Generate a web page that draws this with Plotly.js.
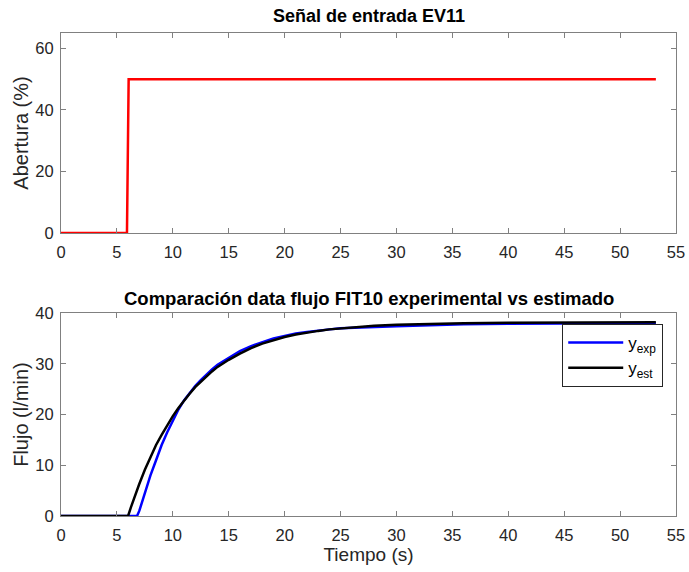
<!DOCTYPE html>
<html>
<head>
<meta charset="utf-8">
<script src="https://cdn.plot.ly/plotly-3.0.1.min.js"></script>
<style>html,body{margin:0;padding:0;background:#fff;}</style>
</head>
<body>
<div id="chart" style="width:689px;height:572px;"></div>
<script>
// Input signal (valve opening %)
const tInput = [0, 5.9, 6.05, 53.2];
const uInput = [0, 0, 50, 50];

// Experimental flow
const tExp = [0, 6.8, 7, 7.25, 7.5, 7.75, 8, 8.5, 9, 9.5, 10, 10.5, 11, 11.5, 12, 12.5, 13, 13.5, 14, 14.5, 15, 16, 17, 18, 19, 20, 21, 22, 23, 24, 25, 26, 28, 30, 33, 36, 40, 45, 50, 53.2];
const yExp = [0, 0, 1.0, 2.8, 4.5, 6.3, 8.0, 11.0, 14.0, 16.5, 18.8, 21.0, 22.8, 24.3, 25.6, 26.8, 27.9, 28.9, 29.8, 30.5, 31.2, 32.5, 33.5, 34.3, 35.0, 35.5, 36.0, 36.3, 36.6, 36.8, 37.0, 37.1, 37.3, 37.4, 37.6, 37.8, 37.9, 38.0, 38.0, 38.0];

// Estimated flow
const tEst = [0, 6, 6.25, 6.5, 6.75, 7, 7.5, 8, 8.5, 9, 9.5, 10, 10.5, 11, 11.5, 12, 12.5, 13, 13.5, 14, 14.5, 15, 16, 17, 18, 19, 20, 21, 22, 23, 24, 25, 26, 28, 30, 33, 36, 40, 45, 50, 53.2];
const yEst = [0, 0, 1.7, 3.3, 4.8, 6.3, 9.1, 11.6, 14.0, 16.0, 18.0, 19.7, 21.3, 22.8, 24.1, 25.4, 26.5, 27.6, 28.5, 29.4, 30.1, 30.8, 32.0, 33.1, 34.0, 34.7, 35.3, 35.8, 36.2, 36.5, 36.8, 37.0, 37.2, 37.5, 37.7, 37.9, 38.0, 38.1, 38.15, 38.2, 38.2];

const xTicks = [0, 5, 10, 15, 20, 25, 30, 35, 40, 45, 50, 55];
const yTicksTop = [0, 20, 40, 60];
const yTicksBottom = [0, 10, 20, 30, 40];

const titleTop = "Señal de entrada EV11";
const titleBottom = "Comparación data flujo FIT10 experimental vs estimado";

const FONT = "Liberation Sans, Arial, Helvetica, sans-serif";
const axisColor = "#808080";
const tickFont = {family: FONT, size: 16.5, color: "#262626"};

function axisBase(extra) {
  return Object.assign({
    showline: true, linecolor: axisColor, linewidth: 1, mirror: "ticks",
    ticks: "inside", ticklen: 5, tickcolor: axisColor, tickwidth: 1,
    showgrid: false, zeroline: false, tickfont: tickFont, fixedrange: true
  }, extra);
}

const traces = [
  {x: tInput, y: uInput, type: "scatter", mode: "lines", line: {color: "#ff0000", width: 2.5},
   xaxis: "x", yaxis: "y", showlegend: false},
  {x: tExp, y: yExp, type: "scatter", mode: "lines", line: {color: "#0000ff", width: 2.5},
   xaxis: "x2", yaxis: "y2", name: "y<sub>exp</sub>"},
  {x: tEst, y: yEst, type: "scatter", mode: "lines", line: {color: "#000000", width: 2.5},
   xaxis: "x2", yaxis: "y2", name: "y<sub>est</sub>"}
];

const layout = {
  width: 689, height: 572,
  margin: {l: 61, r: 13, t: 33, b: 56},
  paper_bgcolor: "#fff", plot_bgcolor: "#fff",
  font: {family: FONT, color: "#262626"},
  xaxis: axisBase({domain: [0, 1], range: [0, 55], tickvals: xTicks, anchor: "y", ticklabelstandoff: 4}),
  yaxis: axisBase({domain: [0.586, 1], range: [0, 65], tickvals: yTicksTop, anchor: "x", ticklabelstandoff: 3,
    title: {text: "Abertura (%)", font: {family: FONT, size: 20, color: "#262626"}, standoff: 1}}),
  xaxis2: axisBase({domain: [0, 1], range: [0, 55], tickvals: xTicks, anchor: "y2", ticklabelstandoff: 4,
    title: {text: "Tiempo (s)", font: {family: FONT, size: 19, color: "#262626"}, standoff: 2}}),
  yaxis2: axisBase({domain: [0, 0.42], range: [0, 40], tickvals: yTicksBottom, anchor: "x2", ticklabelstandoff: 3,
    title: {text: "Flujo (l/min)", font: {family: FONT, size: 20, color: "#262626"}, standoff: 1}}),
  showlegend: true,
  legend: {x: 0.815, y: 0.3975, xanchor: "left", yanchor: "top",
    bgcolor: "#fff", bordercolor: "#262626", borderwidth: 1,
    font: {family: FONT, size: 17, color: "#000"}, itemwidth: 55, tracegroupgap: 0},
  annotations: [
    {text: "<b>" + titleTop + "</b>", xref: "paper", yref: "paper", x: 0.5, y: 1, yshift: 5,
     xanchor: "center", yanchor: "bottom", showarrow: false, font: {family: FONT, size: 18, color: "#000"}},
    {text: "<b>" + titleBottom + "</b>", xref: "paper", yref: "paper", x: 0.5, y: 0.42, yshift: 2,
     xanchor: "center", yanchor: "bottom", showarrow: false, font: {family: FONT, size: 18.5, color: "#000"}}
  ]
};

Plotly.newPlot("chart", traces, layout, {displayModeBar: false, staticPlot: true});
</script>
</body>
</html>
